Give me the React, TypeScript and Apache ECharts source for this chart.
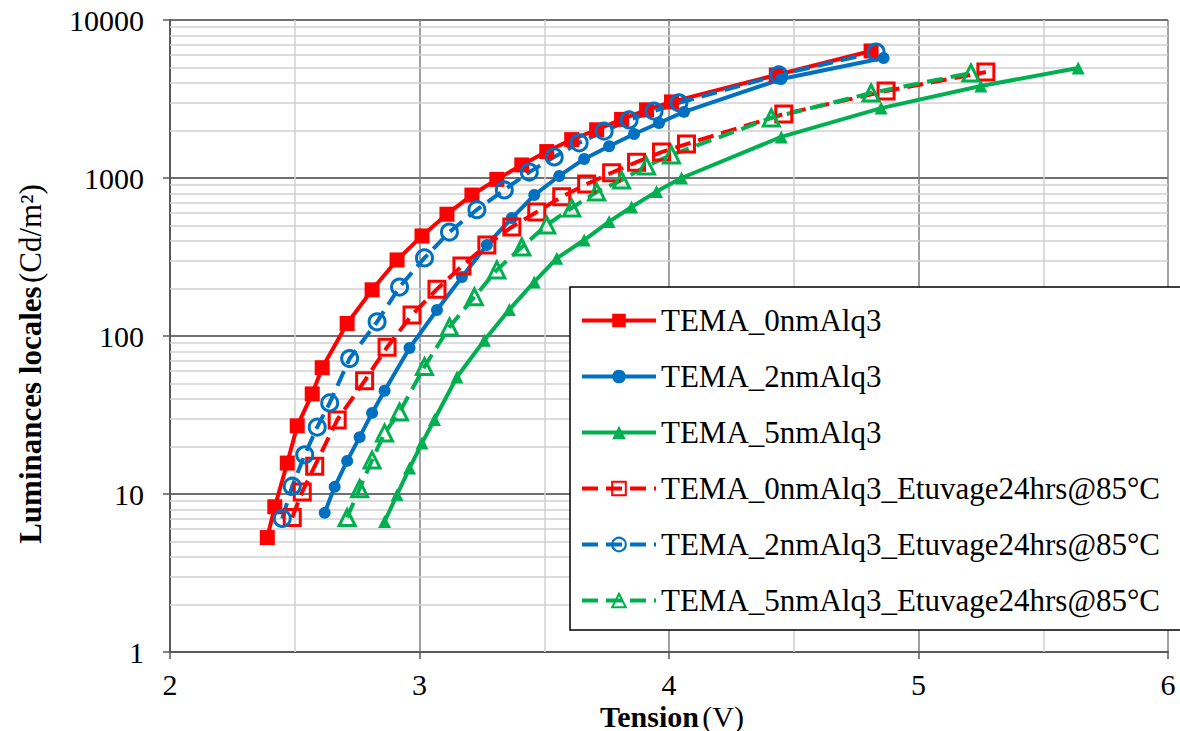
import React, { useEffect, useRef } from "react";
import * as echarts from "echarts";

// ---- Data ----
const seriesNames = [
  "TEMA_0nmAlq3",
  "TEMA_2nmAlq3",
  "TEMA_5nmAlq3",
  "TEMA_0nmAlq3_Etuvage24hrs@85°C",
  "TEMA_2nmAlq3_Etuvage24hrs@85°C",
  "TEMA_5nmAlq3_Etuvage24hrs@85°C",
];

const v0 = [2.39, 2.42, 2.47, 2.51, 2.57, 2.61, 2.71, 2.81, 2.91, 3.01, 3.11, 3.21, 3.31, 3.41, 3.51, 3.61, 3.71, 3.81, 3.91, 4.01, 4.43, 4.81];
const l0 = [5.3, 8.3, 15.7, 27, 43, 63, 120, 196, 303, 430, 590, 780, 980, 1210, 1470, 1750, 2020, 2350, 2700, 3030, 4490, 6370];

const v2 = [2.62, 2.66, 2.71, 2.76, 2.81, 2.86, 2.96, 3.07, 3.17, 3.27, 3.37, 3.46, 3.56, 3.66, 3.76, 3.86, 3.96, 4.06, 4.45, 4.86];
const l2 = [7.6, 11.1, 16.2, 22.9, 32.6, 45, 84, 146, 236, 377, 558, 780, 1030, 1320, 1590, 1900, 2230, 2620, 4230, 5750];

const v5 = [2.86, 2.91, 2.96, 3.01, 3.06, 3.15, 3.26, 3.36, 3.46, 3.55, 3.66, 3.76, 3.85, 3.95, 4.05, 4.45, 4.85, 5.25, 5.64];
const l5 = [6.7, 9.9, 14.6, 21, 29.6, 55, 94, 147, 220, 310, 405, 530, 655, 820, 1000, 1820, 2770, 3820, 4970];

const v0e = [2.49, 2.53, 2.58, 2.67, 2.78, 2.87, 2.97, 3.07, 3.17, 3.27, 3.37, 3.47, 3.57, 3.67, 3.77, 3.87, 3.97, 4.07, 4.46, 4.87, 5.27];
const l0e = [7.1, 10.3, 15, 29.4, 52, 85, 136, 198, 277, 377, 490, 610, 760, 915, 1080, 1260, 1460, 1640, 2540, 3550, 4690];

const v2e = [2.45, 2.49, 2.54, 2.59, 2.64, 2.72, 2.83, 2.92, 3.02, 3.12, 3.23, 3.34, 3.44, 3.54, 3.64, 3.74, 3.84, 3.94, 4.04, 4.44, 4.83];
const l2e = [7.0, 11.2, 17.7, 26.5, 37.7, 72, 123, 204, 312, 455, 630, 840, 1090, 1360, 1670, 1980, 2330, 2650, 2990, 4490, 6270];

const v5e = [2.71, 2.76, 2.81, 2.86, 2.92, 3.02, 3.12, 3.22, 3.31, 3.41, 3.51, 3.61, 3.71, 3.81, 3.91, 4.01, 4.41, 4.81, 5.21];
const l5e = [7.1, 10.8, 16.4, 24.3, 33, 64, 114, 177, 262, 366, 504, 646, 816, 970, 1190, 1400, 2400, 3450, 4620];

const minorYLines = [
  2, 3, 4, 5, 6, 7, 8, 9,
  20, 30, 40, 50, 60, 70, 80, 90,
  200, 300, 400, 500, 600, 700, 800, 900,
  2000, 3000, 4000, 5000, 6000, 7000, 8000, 9000,
];
const minorXLines = [2.5, 3.5, 4.5, 5.5];

const RED = "#FF0000";
const BLUE = "#0070C0";
const GREEN = "#00B050";
const FONT = "Liberation Serif";

const serifRich = {
  t: { fontFamily: FONT, fontSize: 30, color: "#000" },
};

function zip(xs: number[], ys: number[]) {
  return xs.map((x, i) => [x, ys[i]]);
}

function makeSeries(
  name: string,
  xs: number[],
  ys: number[],
  color: string,
  symbol: string,
  size: number,
  open: boolean
) {
  return {
    name,
    type: "line",
    data: zip(xs, ys),
    symbol,
    symbolSize: size,
    z: 3,
    lineStyle: { color, width: 4, type: open ? [16, 8] : "solid" },
    itemStyle: open
      ? { color: "rgba(255,255,255,0)", borderColor: color, borderWidth: 3 }
      : { color, borderColor: color, borderWidth: 0 },
    emphasis: { disabled: true },
  };
}

export default function App() {
  const ref = useRef<HTMLDivElement>(null);

  useEffect(() => {
    if (!ref.current) return;
    const chart = echarts.init(ref.current, null, { renderer: "svg" });

    const option: any = {
      animation: false,
      backgroundColor: "#ffffff",
      textStyle: { fontFamily: FONT },
      grid: { left: 170, right: 12, top: 20, bottom: 79, containLabel: false },
      xAxis: {
        type: "value",
        min: 2,
        max: 6,
        interval: 1,
        axisLine: { show: true, lineStyle: { color: "#595959", width: 2 } },
        axisTick: { show: true, inside: false, length: 7, lineStyle: { color: "#595959", width: 1.5 } },
        axisLabel: {
          fontFamily: FONT,
          fontSize: 30,
          color: "#000",
          margin: 17,
          formatter: (v: number) => "{t|" + v + "}",
          rich: serifRich,
        },
        splitLine: { show: true, lineStyle: { color: "#808080", width: 1.5 } },
      },
      yAxis: {
        type: "log",
        logBase: 10,
        min: 1,
        max: 10000,
        axisLine: { show: true, lineStyle: { color: "#595959", width: 2 } },
        axisTick: { show: true, inside: false, length: 7, lineStyle: { color: "#595959", width: 1.5 } },
        axisLabel: {
          fontFamily: FONT,
          fontSize: 30,
          color: "#000",
          margin: 26,
          formatter: (v: number) => "{t|" + String(Math.round(v)) + "}",
          rich: serifRich,
        },
        splitLine: { show: true, lineStyle: { color: "#404040", width: 1.5 } },
        minorTick: { show: false },
      },
      legend: {
        orient: "vertical",
        left: 570,
        top: 287,
        data: seriesNames,
        backgroundColor: "#ffffff",
        borderColor: "#000000",
        borderWidth: 1.5,
        padding: [18, 40, 14, 10],
        itemWidth: 74,
        itemHeight: 17,
        itemGap: 25,
        lineStyle: { width: 4 },
        formatter: (name: string) => "{t|" + name + "}",
        textStyle: {
          fontFamily: FONT,
          fontSize: 31,
          lineHeight: 28,
          color: "#000",
          rich: { t: { fontFamily: FONT, fontSize: 31, lineHeight: 28, color: "#000" } },
        },
        selectedMode: false,
      },
      graphic: [
        {
          type: "text",
          x: 30,
          y: 364,
          rotation: Math.PI / 2,
          style: {
            text: "{b|Luminances locales} {n|(Cd/m²)}",
            align: "center",
            verticalAlign: "middle",
            rich: {
              b: { fontFamily: FONT, fontSize: 31, fontWeight: "bold", fill: "#000" },
              n: { fontFamily: FONT, fontSize: 31, fill: "#000" },
            },
          },
        },
        {
          type: "text",
          x: 672,
          y: 716,
          style: {
            text: "{b|Tension} {n|(V)}",
            align: "center",
            verticalAlign: "middle",
            rich: {
              b: { fontFamily: FONT, fontSize: 30, fontWeight: "bold", fill: "#000" },
              n: { fontFamily: FONT, fontSize: 30, fill: "#000" },
            },
          },
        },
      ],
      series: [
        {
          name: "minorGrid",
          type: "line",
          data: [[2, 1]],
          symbol: "none",
          silent: true,
          z: 1,
          lineStyle: { opacity: 0 },
          markLine: {
            silent: true,
            symbol: "none",
            label: { show: false },
            z: 1,
            lineStyle: { color: "#d0d0d0", width: 1.5, type: "solid" },
            data: [
              ...minorYLines.map((y) => ({ yAxis: y })),
              ...minorXLines.map((x) => ({ xAxis: x })),
            ],
          },
        },
        makeSeries(seriesNames[0], v0, l0, RED, "rect", 15, false),
        makeSeries(seriesNames[1], v2, l2, BLUE, "circle", 12, false),
        makeSeries(seriesNames[2], v5, l5, GREEN, "triangle", 13, false),
        makeSeries(seriesNames[3], v0e, l0e, RED, "rect", 16, true),
        makeSeries(seriesNames[4], v2e, l2e, BLUE, "circle", 16, true),
        makeSeries(seriesNames[5], v5e, l5e, GREEN, "triangle", 16, true),
      ],
    };

    chart.setOption(option);
    return () => chart.dispose();
  }, []);

  return (
    <div
      ref={ref}
      style={{ position: "fixed", left: 0, top: 0, width: 1180, height: 731, background: "#fff" }}
    />
  );
}
